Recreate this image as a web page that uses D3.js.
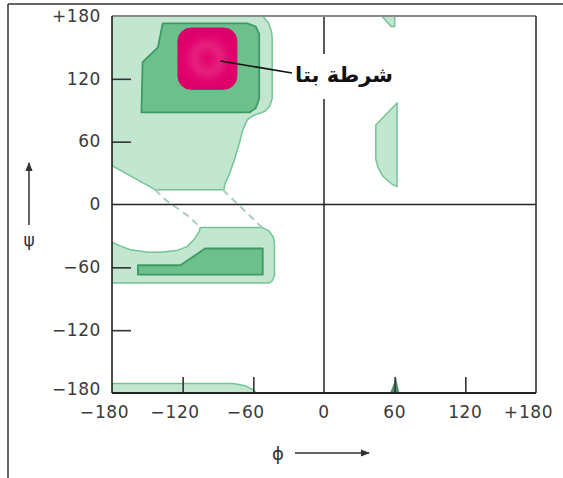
<!DOCTYPE html>
<html><head><meta charset="utf-8">
<script src="https://cdn.jsdelivr.net/npm/d3@7"></script>
<style>body{margin:0;background:#fff}svg{display:block}</style>
</head><body>
<svg id="c" width="563" height="478"></svg>
<script>
// ---- data (phi, psi in degrees) ----
const phiTicks = [-180, -120, -60, 0, 60, 120, 180];
const psiTicks = [180, 120, 60, 0, -60, -120, -180];
const phiTickLabels = ["−180", "−120", "−60", "0", "60", "120", "+180"];
const psiTickLabels = ["+180", "120", "60", "0", "−60", "−120", "−180"];

// allowed (light) regions
const lightUpperLeft = [[-180,180],[-52,180],[-47,173],[-44.5,165],[-44,158],[-44,101],[-46,94],[-50,89],[-60,85],[-65,81],[-69,71],[-72,58],[-76,43],[-80,30],[-84,20],[-85,14],[-143,14],[-180,37]];
const lightLowerLeft = [[-180,-36],[-172,-40],[-165,-43],[-150,-45.5],[-139,-45.5],[-125,-44],[-116,-40],[-110,-33],[-106,-26],[-105,-22],[-53,-22],[-47,-25],[-43,-31],[-42,-39],[-42,-68],[-44,-73],[-47,-75],[-180,-75]];
const lightRightMid = [[62,97],[62,17],[57,20],[50,27],[46,35],[44,43],[44,76]];
const lightTopWedge = [[49,180],[60,180],[60,170],[57,170]];
const lightBottomStrip = [[-180,-171],[-77,-171],[-67,-173],[-60,-177],[-57,-180],[-180,-180]];
// favourable (medium) regions
const mediumUpper = [[-137,173],[-65,173],[-58,170],[-55,163],[-55,101],[-58,92],[-63,88],[-155,88],[-154,136],[-141,150]];
const mediumLower = [[-158,-58],[-122,-58],[-114,-52],[-101,-42],[-52,-42],[-52,-67],[-158,-67]];
const mediumBottomSpike = [[56,-180],[59,-172],[61,-164],[62,-170],[64,-180]];
// beta strand core
const betaCore = {phi0:-124, phi1:-74, psi0:110, psi1:168.5};
// dashed bridge lines
const bridges = [[[-143.5,14],[-133,3],[-114,-12],[-105,-22]], [[-85.8,14],[-52.6,-22]]];
const labelText = "شرطة بتا";
const labelPoint = [-88, 137];

// ---- drawing ----
const svg = d3.select("#c");
const L = 112, R = 536, T = 16, B = 393;
const x = d3.scaleLinear().domain([-180,180]).range([L,R]);
const y = d3.scaleLinear().domain([-180,180]).range([B,T]);

const light = "#c3e6d0", lightStroke = "#74c496";
const medium = "#6dbf8c", mediumStroke = "#3c9a65";

svg.append("clipPath").attr("id","pc").append("rect")
  .attr("x",L).attr("y",T).attr("width",R-L).attr("height",B-T);
const g = svg.append("g").attr("clip-path","url(#pc)");
const line = d3.line().x(d=>x(d[0])).y(d=>y(d[1])).curve(d3.curveLinearClosed);

[lightUpperLeft, lightLowerLeft, lightRightMid, lightTopWedge, lightBottomStrip].forEach(p=>{
  g.append("path").attr("d",line(p)).attr("fill",light).attr("stroke",lightStroke).attr("stroke-width",1.5).attr("stroke-linejoin","round");
});
[mediumUpper, mediumLower].forEach(p=>{
  g.append("path").attr("d",line(p)).attr("fill",medium).attr("stroke",mediumStroke).attr("stroke-width",1.8).attr("stroke-linejoin","round");
});
g.append("path").attr("d",line(mediumBottomSpike)).attr("fill","#4f8f6a").attr("stroke","none");

const defs = svg.append("defs");
const rg = defs.append("radialGradient").attr("id","mg");
rg.append("stop").attr("offset","0%").attr("stop-color","#e0026c");
rg.append("stop").attr("offset","45%").attr("stop-color","#e6207e");
rg.append("stop").attr("offset","75%").attr("stop-color","#e1046f");
rg.append("stop").attr("offset","100%").attr("stop-color","#de0068");
g.append("rect")
  .attr("x",x(betaCore.phi0)).attr("y",y(betaCore.psi1))
  .attr("width",x(betaCore.phi1)-x(betaCore.phi0)).attr("height",y(betaCore.psi0)-y(betaCore.psi1))
  .attr("rx",13).attr("fill","url(#mg)").attr("stroke","#d6006a").attr("stroke-width",1);

// dashed bridges
const oline = d3.line().x(d=>x(d[0])).y(d=>y(d[1]));
bridges.forEach(b=>{
  g.append("path").attr("d",oline(b)).attr("fill","none").attr("stroke","#a9cdb8").attr("stroke-width",2).attr("stroke-dasharray","7,5");
});

// zero lines
svg.append("line").attr("x1",x(0)).attr("x2",x(0)).attr("y1",T).attr("y2",B).attr("stroke","#222").attr("stroke-width",1.5);
svg.append("line").attr("x1",L).attr("x2",R).attr("y1",y(0)).attr("y2",y(0)).attr("stroke","#222").attr("stroke-width",1.5);

// ticks via axes (inward)
const ax = svg.append("g").attr("transform",`translate(0,${B})`)
  .call(d3.axisBottom(x).tickValues([-120,-60,60,120]).tickSize(-16).tickFormat(""));
const ay = svg.append("g").attr("transform",`translate(${L},0)`)
  .call(d3.axisLeft(y).tickValues([120,60,-60,-120]).tickSize(-19).tickFormat(""));
[ax,ay].forEach(a=>{a.select(".domain").remove(); a.selectAll(".tick line").attr("stroke","#333").attr("stroke-width",1.6);});

// plot frame
svg.append("line").attr("x1",L).attr("x2",R).attr("y1",T).attr("y2",T).attr("stroke","#8a8a8a").attr("stroke-width",2);
svg.append("line").attr("x1",L).attr("x2",L).attr("y1",T).attr("y2",B).attr("stroke","#222").attr("stroke-width",1.6);
svg.append("line").attr("x1",R).attr("x2",R).attr("y1",T).attr("y2",B).attr("stroke","#333").attr("stroke-width",1.6);
svg.append("line").attr("x1",L).attr("x2",R).attr("y1",B).attr("y2",B).attr("stroke","#222").attr("stroke-width",1.8);

// outer frame (partial)
svg.append("line").attr("x1",8).attr("x2",563).attr("y1",4).attr("y2",4).attr("stroke","#333").attr("stroke-width",1.5);
svg.append("line").attr("x1",8).attr("x2",8).attr("y1",4).attr("y2",478).attr("stroke","#333").attr("stroke-width",1.5);

// tick labels
const font = "DejaVu Sans";
const fs = 17;
psiTicks.forEach((v,i)=>{
  svg.append("text").attr("x",101).attr("y",y(v) + (v === -180 ? -4 : 0)).attr("dy","0.34em").attr("text-anchor","end")
    .attr("font-family",font).attr("font-size",fs).attr("fill","#3a3a3a").attr("letter-spacing",0.6)
    .text(psiTickLabels[i]);
});
phiTicks.forEach((v,i)=>{
  const lab = phiTickLabels[i];
  const sign = /^[−+]/.test(lab) ? lab[0] : "";
  const digits = sign ? lab.slice(1) : lab;
  const t = svg.append("text").attr("x",x(v)).attr("y",418).attr("text-anchor","middle")
    .attr("font-family",font).attr("font-size",fs).attr("fill","#3a3a3a").attr("letter-spacing",0.6).text(digits);
  if (sign) {
    const w = t.node().getComputedTextLength();
    svg.append("text").attr("x",x(v)-w/2-1).attr("y",418).attr("text-anchor","end")
      .attr("font-family",font).attr("font-size",fs).attr("fill","#3a3a3a").text(sign);
  }
});

// axis titles with arrows
defs.append("marker").attr("id","ah").attr("viewBox","0 0 10 10").attr("refX",9).attr("refY",5)
  .attr("markerWidth",6).attr("markerHeight",6).attr("orient","auto")
  .append("path").attr("d","M0,1 L10,5 L0,9 Z").attr("fill","#333");
svg.append("line").attr("x1",29).attr("x2",29).attr("y1",225).attr("y2",163).attr("stroke","#333").attr("stroke-width",1.5).attr("marker-end","url(#ah)");
svg.append("text").attr("x",29).attr("y",246).attr("text-anchor","middle").attr("font-family",font).attr("font-size",17).attr("fill","#333").text("ψ");
svg.append("text").attr("x",278).attr("y",460).attr("text-anchor","middle").attr("font-family",font).attr("font-size",18).attr("fill","#333").text("ϕ");
svg.append("line").attr("x1",295).attr("x2",369).attr("y1",453).attr("y2",453).attr("stroke","#333").attr("stroke-width",1.5).attr("marker-end","url(#ah)");

// beta strand label
svg.append("rect").attr("x",292).attr("y",54).attr("width",104).attr("height",45).attr("fill","#fff");
svg.append("line").attr("x1",x(labelPoint[0])).attr("y1",y(labelPoint[1])).attr("x2",292).attr("y2",73)
  .attr("stroke","#111").attr("stroke-width",1.6);
svg.append("text").attr("x",344).attr("y",82).attr("text-anchor","middle").attr("direction","rtl")
  .attr("font-family",font).attr("font-weight","bold").attr("font-size",21).attr("fill","#111").text(labelText);
</script>
</body></html>
